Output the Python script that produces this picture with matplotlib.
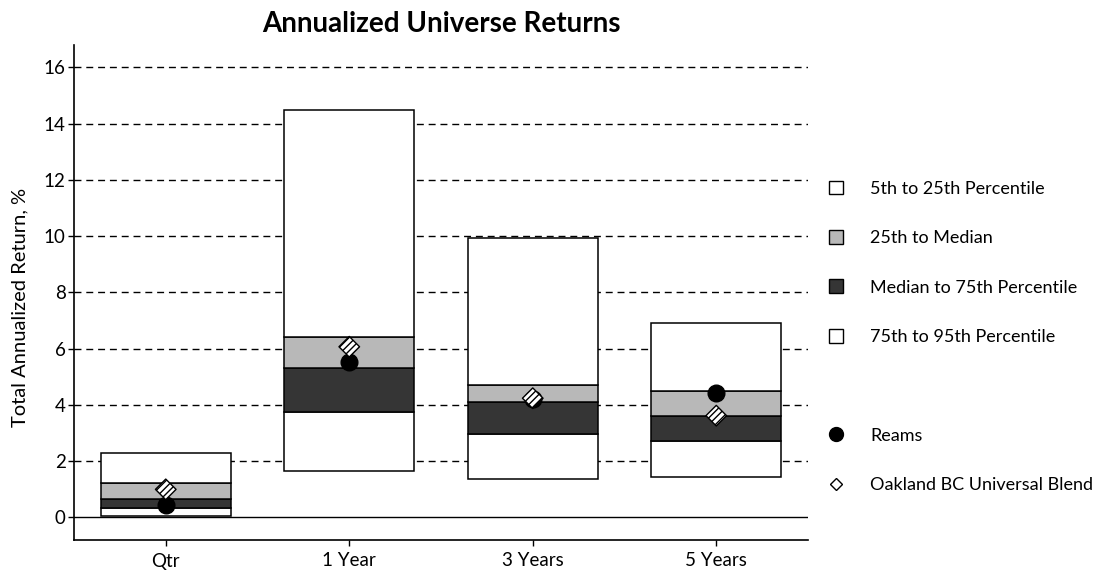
import numpy as np
import matplotlib
matplotlib.use("Agg")
from matplotlib import pyplot as plt
from matplotlib.patches import Patch
from matplotlib.lines import Line2D

plt.rcParams['font.family'] = ['Lato', 'DejaVu Sans']

# data
periods = ['Qtr', '1 Year', '3 Years', '5 Years']
p5 = [2.28, 14.50, 9.92, 6.90]     # top of box
p25 = [1.23, 6.41, 4.72, 4.51]
p50 = [0.64, 5.31, 4.10, 3.62]
p75 = [0.32, 3.75, 2.98, 2.73]
p95 = [0.05, 1.67, 1.37, 1.43]     # bottom of box
reams = [0.46, 5.52, 4.20, 4.42]
oakland = [1.00, 6.07, 4.24, 3.62]
yticks = [0, 2, 4, 6, 8, 10, 12, 14, 16]

light = '#b8b8b8'
dark = '#353535'

fig = plt.figure(figsize=(11.11, 5.76), dpi=100)
ax = fig.add_axes([0.0666, 0.0625, 0.6607, 0.8595])

x = np.arange(len(periods))
p5 = np.array(p5); p25 = np.array(p25); p50 = np.array(p50)
p75 = np.array(p75); p95 = np.array(p95)

# gridlines behind the boxes
for t in yticks[1:]:
    ax.axhline(t, color='black', lw=1.0, ls=(0, (5, 3.5)), zorder=0)
ax.axhline(0, color='black', lw=1.0, zorder=0)

w = 0.71
ax.bar(x, p75 - p95, w, bottom=p95, color='white', edgecolor='black', lw=1.1, zorder=2)
ax.bar(x, p50 - p75, w, bottom=p75, color=dark, edgecolor='black', lw=1.1, zorder=2)
ax.bar(x, p25 - p50, w, bottom=p50, color=light, edgecolor='black', lw=1.1, zorder=2)
ax.bar(x, p5 - p25, w, bottom=p25, color='white', edgecolor='black', lw=1.1, zorder=2)

ax.plot(x, reams, 'o', color='black', ms=12, ls='none', zorder=3)
ax.scatter(x, oakland, marker='D', s=110, facecolor='white', edgecolor='black',
           hatch='/////', lw=1.0, zorder=4)

ax.set_xlim(-0.5, 3.5)
ax.set_ylim(-0.8, 16.8)
ax.set_yticks(yticks)
ax.set_xticks(x)
ax.set_xticklabels(periods, fontsize=13.5)
ax.tick_params(axis='y', labelsize=13.5, length=4, width=1, pad=2)
ax.tick_params(axis='x', length=4, width=1, pad=5)
ax.spines['top'].set_visible(False)
ax.spines['right'].set_visible(False)
ax.spines['left'].set_linewidth(1.2)
ax.spines['bottom'].set_linewidth(1.2)
ax.set_ylabel('Total Annualized Return, %', fontsize=14.5)
ax.yaxis.set_label_coords(-0.062, 0.47)
ax.set_title('Annualized Universe Returns', fontsize=20, fontweight='bold', pad=9)

handles = [
    Patch(facecolor='white', edgecolor='black', lw=1.0),
    Patch(facecolor=light, edgecolor='black', lw=1.0),
    Patch(facecolor=dark, edgecolor='black', lw=1.0),
    Patch(facecolor='white', edgecolor='black', lw=1.0),
    Line2D([], [], ls='none'),
    Line2D([], [], marker='o', color='black', ms=10, ls='none'),
    Line2D([], [], marker='D', mfc='white', mec='black', ms=6, ls='none'),
]
labels = ['5th to 25th Percentile', '25th to Median', 'Median to 75th Percentile',
          '75th to 95th Percentile', '', 'Reams', 'Oakland BC Universal Blend']
ax.legend(handles, labels, loc='upper left', bbox_to_anchor=(1.028, 0.726),
          frameon=False, fontsize=13, handlelength=0.8, handleheight=0.8,
          handletextpad=1.5, labelspacing=1.84, borderaxespad=0, borderpad=0)

fig.savefig('out.png', dpi=100)
